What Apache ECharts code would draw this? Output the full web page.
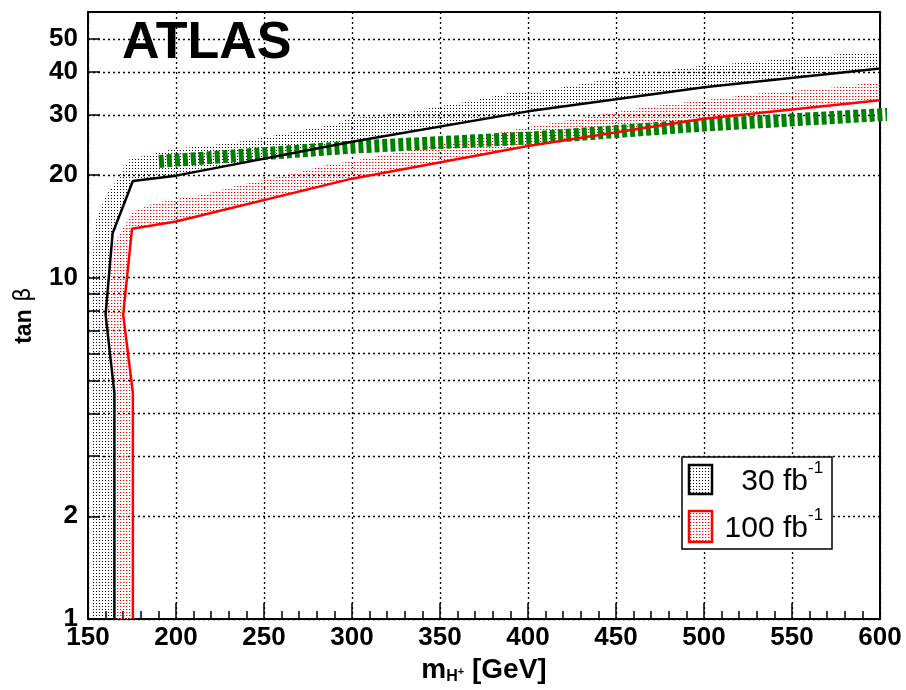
<!DOCTYPE html>
<html>
<head>
<meta charset="utf-8">
<script src="https://cdn.jsdelivr.net/npm/echarts@6/dist/echarts.min.js"></script>
<style>
  html, body { margin: 0; padding: 0; background: #fff; overflow: hidden; }
  #chart { width: 906px; height: 690px; }
</style>
</head>
<body>
<div id="chart"></div>
<script>
// Axis ranges and tick values
const xMin = 150, xMax = 600, xStep = 50;
const yMin = 1, yMax = 60;
const yTickValues = [1, 2, 3, 4, 5, 6, 7, 8, 9, 10, 20, 30, 40, 50];
const yLabelValues = [1, 2, 10, 20, 30, 40, 50];

// Discovery contours: [m_H+ (GeV), tan beta]
const line30 = [[165, 1], [165, 4.6], [160, 7.8], [164, 13.5], [175.5, 19.2], [200, 19.9],
  [300, 25.0], [400, 30.7], [500, 36.1], [600, 41.0]];
const line100 = [[175.5, 1], [175.5, 4.6], [170, 7.8], [175, 13.9], [200, 14.6],
  [300, 19.5], [400, 24.3], [500, 29.2], [600, 33.1]];

// Outer edges of the uncertainty bands
const band30Edge = [[152.8, 1], [152.8, 11], [153.4, 14.2], [160.2, 17.4], [167, 19.5],
  [170, 20.8], [173.3, 22.2], [198.3, 23.8], [225, 24.6], [243.8, 25.4], [264.8, 26.6],
  [276, 27.3], [291.5, 28.2], [297.7, 29.2], [334, 30.6], [347, 31.6], [368, 32.9],
  [388.6, 34.7], [404, 34.9], [450, 38.5], [499.4, 41.8], [524, 42.7], [545, 43.8],
  [566, 44.7], [587, 45.6], [600, 45.6]];
const band100Edge = [[165.5, 1], [165.5, 4.6], [160.5, 7.8], [164.5, 12.5], [171, 14.3],
  [175.6, 15.6], [187, 16.5], [200, 17.0], [213, 17.4], [234.7, 18.6], [253.4, 19.5],
  [272, 20.5], [287.5, 21.5], [299, 21.9], [350, 24.6], [398, 27.5], [441, 30.0],
  [467, 31.6], [500, 33.1], [532, 34.7], [554.5, 35.4], [575.6, 36.1], [592.6, 37.1],
  [600, 37.1]];

// Green dashed line
const greenLine = [[190.3, 21.9], [299, 24.1], [404, 25.7], [500, 28.0], [600, 30.0], [615, 30.3]];

// Dotted fill patterns
function dotPattern(dots) {
  const c = document.createElement('canvas');
  c.width = 3; c.height = 3;
  const g = c.getContext('2d');
  dots.forEach(d => { g.fillStyle = d[2]; g.fillRect(d[0], d[1], 1, 1); });
  return { image: c, repeat: 'repeat' };
}
const blackDots = dotPattern([[0, 0, '#000000']]);
const redDots = dotPattern([[0, 0, '#ff0000'], [1, 0, '#ffb0b0']]);

function bandSeries(edge, line, fill) {
  const polygon = edge.concat(line.slice().reverse());
  return {
    type: 'custom',
    coordinateSystem: 'cartesian2d',
    clip: true,
    silent: true,
    data: [polygon[0]],
    renderItem: function (params, api) {
      return {
        type: 'polygon',
        shape: { points: polygon.map(p => api.coord(p)) },
        style: { fill: fill, stroke: null }
      };
    },
    z: 1
  };
}

const dotted = { type: [2, 3], width: 1.3, color: '#000' };
const labelFont = { fontFamily: 'Liberation Sans', fontWeight: 'bold', fontSize: 26, color: '#000' };

const chart = echarts.init(document.getElementById('chart'), null, { renderer: 'canvas' });
chart.setOption({
  animation: false,
  backgroundColor: '#fff',
  grid: { left: 88, right: 26, top: 12, bottom: 64, show: true, borderColor: '#000', borderWidth: 2, backgroundColor: 'transparent' },
  xAxis: {
    type: 'value', min: xMin, max: xMax, interval: xStep,
    axisLine: { show: true, lineStyle: { color: '#000', width: 2 } },
    axisTick: { show: true, inside: true, length: 16, lineStyle: { color: '#000', width: 1.5 } },
    minorTick: { show: true, splitNumber: 5, length: 8, lineStyle: { color: '#000', width: 1.5 } },
    splitLine: { show: true, lineStyle: dotted },
    axisLabel: Object.assign({ margin: 6 }, labelFont),
    name: '{b|m}{sub|H}{sup|+}{b| [GeV]}',
    nameLocation: 'middle',
    nameGap: 30,
    nameTextStyle: {
      rich: {
        b: { fontFamily: 'Liberation Sans', fontWeight: 'bold', fontSize: 28, color: '#000' },
        sub: { fontFamily: 'Liberation Sans', fontWeight: 'bold', fontSize: 16, color: '#000', padding: [14, 0, 0, 0] },
        sup: { fontFamily: 'Liberation Sans', fontWeight: 'bold', fontSize: 11, color: '#000', padding: [4, 0, 0, 0] }
      }
    }
  },
  yAxis: {
    type: 'log', logBase: 10, min: yMin, max: yMax,
    axisLine: { show: true, lineStyle: { color: '#000', width: 2 } },
    axisTick: { show: true, inside: true, length: 12, customValues: yTickValues, lineStyle: { color: '#000', width: 1.5 } },
    splitLine: { show: true, lineStyle: dotted },
    axisLabel: Object.assign({ margin: 10, customValues: yLabelValues }, labelFont),
    name: '{b|tan}{g| β}',
    nameLocation: 'middle',
    nameRotate: 90,
    nameGap: 52,
    nameTextStyle: {
      rich: {
        b: { fontFamily: 'Liberation Sans', fontWeight: 'bold', fontSize: 23, color: '#000' },
        g: { fontFamily: 'DejaVu Sans', fontSize: 23, color: '#000' }
      }
    }
  },
  series: [
    bandSeries(band30Edge, line30, blackDots),
    bandSeries(band100Edge, line100, redDots),
    {
      type: 'line', data: greenLine, showSymbol: false, clip: false, silent: true, z: 3,
      lineStyle: { color: '#008000', width: 13, type: [5, 3] }
    },
    {
      type: 'line', data: line30, showSymbol: false, silent: true, z: 4,
      lineStyle: { color: '#000', width: 2.5 }
    },
    {
      type: 'line', data: line100, showSymbol: false, silent: true, z: 4,
      lineStyle: { color: '#ff0000', width: 2.5 }
    }
  ],
  graphic: [
    { type: 'text', left: 122, top: 18, z: 100,
      style: { text: 'ATLAS', font: 'bold 52px "Liberation Sans"', fill: '#000' } },
    { type: 'rect', z: 100, shape: { x: 682, y: 457, width: 150, height: 92 },
      style: { fill: '#fff', stroke: '#000', lineWidth: 1.5 } },
    { type: 'rect', z: 101, shape: { x: 689, y: 465, width: 23, height: 29 },
      style: { fill: blackDots, stroke: '#000', lineWidth: 2.5 } },
    { type: 'rect', z: 101, shape: { x: 689, y: 511, width: 23, height: 31 },
      style: { fill: redDots, stroke: '#ff0000', lineWidth: 2.5 } },
    { type: 'text', z: 101, x: 808, y: 482,
      style: { text: '30 fb', font: '30px "Liberation Sans"', fill: '#000', textAlign: 'right', textVerticalAlign: 'middle' } },
    { type: 'text', z: 101, x: 808, y: 468,
      style: { text: '-1', font: '17px "Liberation Sans"', fill: '#000', textAlign: 'left', textVerticalAlign: 'middle' } },
    { type: 'text', z: 101, x: 808, y: 529,
      style: { text: '100 fb', font: '30px "Liberation Sans"', fill: '#000', textAlign: 'right', textVerticalAlign: 'middle' } },
    { type: 'text', z: 101, x: 808, y: 515,
      style: { text: '-1', font: '17px "Liberation Sans"', fill: '#000', textAlign: 'left', textVerticalAlign: 'middle' } }
  ]
});
</script>
</body>
</html>
